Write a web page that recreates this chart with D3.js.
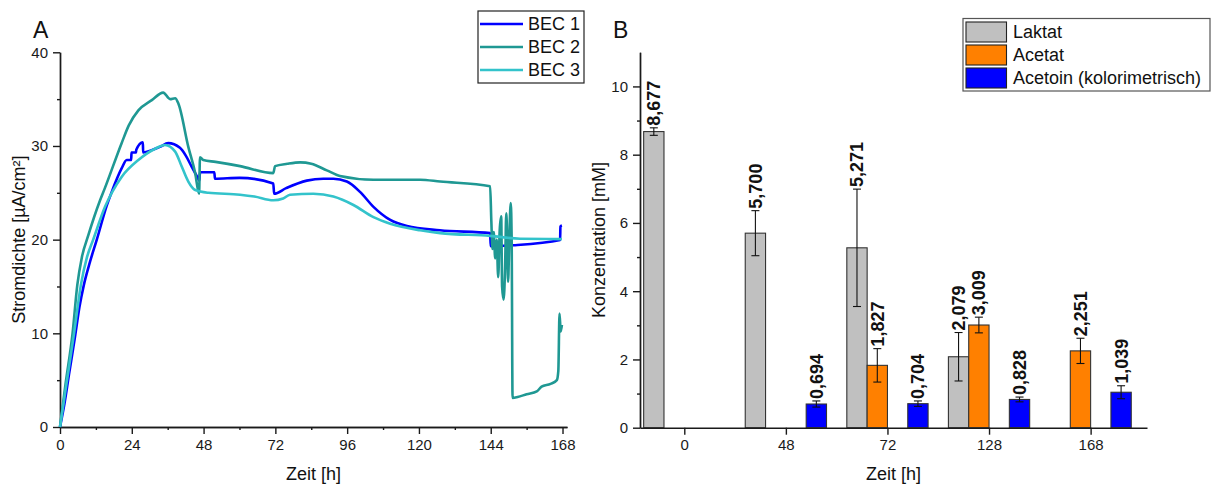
<!DOCTYPE html>
<html>
<head>
<meta charset="utf-8">
<script src="https://cdn.jsdelivr.net/npm/d3@7"></script>
<style>
  body { margin: 0; background: #fff; }
  svg { font-family: "Liberation Sans", Arial, sans-serif; }
  .axis path, .axis line { stroke: #1a1a1a; stroke-width: 1.4px; }
  .axis text { font-size: 15px; fill: #1a1a1a; }
</style>
</head>
<body>
<div id="chart"></div>
<script>
// ---- panel A: current density, [time h, value µA/cm²]
var bec1 = [[0,0],[1.5,2.5],[3,5.6],[5,9.6],[6.5,12.8],[8,15.2],[10,17.6],[12.3,20],[15.6,23.6],[17.3,25.1],
  [20.6,27.6],[22.3,28.5],[23.8,28.5],[23.9,29.3],[25.4,29.3],[25.5,29.6],[27.7,30.4],[27.8,29.3],[31,29.6],
  [33.4,29.9],[36.2,30.3],[40.1,29.8],[42,29],[44,27.8],[45.7,26.8],[46.6,26.3],[46.8,27.2],[51.6,27.2],
  [51.8,26.5],[60,26.6],[71.3,26.0],[71.6,24.9],[75.6,25.5],[82.5,26.3],[88,26.5],[91.4,26.5],[95.9,26.2],
  [100.3,25.1],[104.8,23.5],[110.4,22.1],[116,21.45],[127,21.0],[143.8,20.7],[144,19.3],[151.6,19.4],
  [167.2,19.96],[167.3,21.4],[167.8,21.5]];

var bec2 = [[0,0],[1.9,4.7],[4.2,10],[5.8,15.2],[7.3,18.1],[9.5,20.5],[13.4,24.2],[15,25.5],[20.6,30.3],
  [23,32.2],[26.2,33.8],[30.7,34.9],[34.5,35.7],[36.8,35.0],[38.5,35.1],[39.6,34.5],[42.9,29.9],[45.2,27.1],
  [46.5,24.9],[46.8,28.8],[47.9,28.5],[52,28.3],[60.2,27.85],[71.3,27.1],[71.9,27.85],[76,28.1],[80.3,28.25],
  [84,28.1],[89.2,27.4],[93.6,26.8],[104.8,26.4],[120.4,26.4],[127.1,26.2],[143.8,25.7],[144.2,22],[144.6,19],
  [145,20.8],[145.5,18],[146,20],[146.5,16],[147,21],[147.5,22.5],[147.8,15],[148.3,13.6],[148.8,17],
  [149.2,22.8],[149.5,20],[149.8,15.5],[150.2,20],[150.7,23.9],[151,20],[151.3,3.1],[153,3.2],[156,3.5],
  [159.4,3.8],[161,4.3],[164,4.6],[166.1,5.0],[166.6,6],[167,12.1],[167.4,10.2],[167.8,10.9]];

var bec3 = [[0,0],[2.2,4.7],[4.7,10],[7,15.2],[9,18.1],[11.1,20],[15.05,23.5],[20.6,26.7],[26.2,28.5],
  [31.8,29.7],[35.1,30.1],[38.5,29.4],[40.7,27.8],[42.9,26.2],[45.2,25.3],[49.6,25.0],[60.2,24.8],[65,24.6],
  [71.3,24.2],[74.6,24.4],[76.9,24.8],[84.7,24.9],[91.4,24.6],[98.1,23.7],[104.8,22.4],[110.4,21.7],
  [120.4,21.0],[127.1,20.7],[143.8,20.4],[153.8,20.1],[167.8,20.06]];

var lineNames = ["BEC 1", "BEC 2", "BEC 3"];
var xTicksA = [0, 24, 48, 72, 96, 120, 144, 168];
var yTicksA = [0, 10, 20, 30, 40];

// ---- panel B: concentrations [mM]
var categories = ["0", "48", "72", "128", "168"];
var laktat = [8.677, 5.700, 5.271, 2.079, null];
var laktatErr = [0.11, 0.66, 1.72, 0.71, null];
var acetat = [null, null, 1.827, 3.009, 2.251];
var acetatErr = [null, null, 0.49, 0.23, 0.37];
var acetoin = [null, 0.694, 0.704, 0.828, 1.039];
var acetoinErr = [null, 0.09, 0.08, 0.07, 0.19];
var barNames = ["Laktat", "Acetat", "Acetoin (kolorimetrisch)"];
var yTicksB = [0, 2, 4, 6, 8, 10];

var W = 1211, H = 485;
var svg = d3.select("#chart").append("svg").attr("width", W).attr("height", H);

var lineColors = ["#0000ff", "#1f9893", "#33c3cb"];
var barColors = ["#c0c0c0", "#ff8000", "#0000ff"];

// ================= panel A
var xA = d3.scaleLinear().domain([0, 169.5]).range([60, 567]);
var yA = d3.scaleLinear().domain([0, 40]).range([427, 52.3]);

svg.append("g").attr("class", "axis")
  .attr("transform", "translate(0," + yA(0) + ")")
  .call(d3.axisBottom(xA).tickValues(d3.range(12, 168, 24)).tickSize(3).tickSizeOuter(0).tickFormat(""));
svg.append("g").attr("class", "axis")
  .attr("transform", "translate(0," + yA(0) + ")")
  .call(d3.axisBottom(xA).tickValues(xTicksA).tickSize(7).tickPadding(5).tickSizeOuter(0));
svg.append("g").attr("class", "axis")
  .attr("transform", "translate(" + xA(0) + ",0)")
  .call(d3.axisLeft(yA).tickValues([5, 15, 25, 35]).tickSize(3).tickSizeOuter(0).tickFormat(""));
svg.append("g").attr("class", "axis")
  .attr("transform", "translate(" + xA(0) + ",0)")
  .call(d3.axisLeft(yA).tickValues(yTicksA).tickSize(7).tickPadding(5).tickSizeOuter(0));

var line = d3.line().curve(d3.curveMonotoneX).x(d => xA(d[0])).y(d => yA(d[1]));
[bec1, bec2, bec3].forEach(function(s, i) {
  svg.append("path").datum(s)
    .attr("d", line)
    .attr("fill", "none")
    .attr("stroke", lineColors[i])
    .attr("stroke-width", 2.6)
    .attr("stroke-linejoin", "round");
});

svg.append("text").attr("x", 33).attr("y", 38).attr("font-size", 23).attr("fill", "#111").text("A");
svg.append("text").attr("x", xA(84.75)).attr("y", 480).attr("text-anchor", "middle")
  .attr("font-size", 18).attr("fill", "#111").text("Zeit [h]");
svg.append("text").attr("transform", "translate(25," + yA(20) + ") rotate(-90)")
  .attr("text-anchor", "middle").attr("font-size", 18).attr("fill", "#111").text("Stromdichte [µA/cm²]");

// legend A
var legA = svg.append("g").attr("transform", "translate(478,11)");
legA.append("rect").attr("width", 106).attr("height", 72).attr("fill", "#fff")
  .attr("stroke", "#222").attr("stroke-width", 1.2);
lineNames.forEach(function(n, i) {
  var y = 13 + i * 23;
  legA.append("line").attr("x1", 2).attr("x2", 45).attr("y1", y).attr("y2", y)
    .attr("stroke", lineColors[i]).attr("stroke-width", 2.6);
  legA.append("text").attr("x", 50).attr("y", y).attr("dy", "0.35em")
    .attr("font-size", 18).attr("fill", "#111").text(n);
});

// ================= panel B
var xB = d3.scaleLinear().domain([-0.436, 4.555]).range([640, 1147]);
var yB = d3.scaleLinear().domain([0, 11]).range([427.7, 52.3]);
var slot = 0.2;
var series = [
  { vals: laktat, err: laktatErr, off: -0.4 },
  { vals: acetat, err: acetatErr, off: -0.2 },
  { vals: acetoin, err: acetoinErr, off: 0.2 }
];
var fmt = d3.format(".3f");

series.forEach(function(s, si) {
  var g = svg.append("g");
  s.vals.forEach(function(v, i) {
    if (v == null) return;
    var x0 = xB(i + s.off), x1 = xB(i + s.off + slot), cx = (x0 + x1) / 2;
    g.append("rect").attr("x", x0).attr("y", yB(v))
      .attr("width", x1 - x0).attr("height", yB(0) - yB(v))
      .attr("fill", barColors[si]).attr("stroke", "#333").attr("stroke-width", 1.1);
    var e = s.err[i];
    var top = yB(v + e), bot = yB(v - e);
    g.append("line").attr("x1", cx).attr("x2", cx).attr("y1", top).attr("y2", bot)
      .attr("stroke", "#111").attr("stroke-width", 1.1);
    [top, bot].forEach(function(yy) {
      g.append("line").attr("x1", cx - 4).attr("x2", cx + 4).attr("y1", yy).attr("y2", yy)
        .attr("stroke", "#111").attr("stroke-width", 1.1);
    });
    g.append("text").attr("transform", "translate(" + cx + "," + (top - 2) + ") rotate(-90)")
      .attr("dy", "0.36em").attr("font-size", 18).attr("font-weight", "bold").attr("fill", "#111")
      .text(fmt(v).replace(".", ","));
  });
});

svg.append("g").attr("class", "axis")
  .attr("transform", "translate(0," + yB(0) + ")")
  .call(d3.axisBottom(xB).tickValues(d3.range(categories.length)).tickSize(7).tickPadding(5)
    .tickSizeOuter(0).tickFormat(i => categories[i]));
svg.append("g").attr("class", "axis")
  .attr("transform", "translate(" + xB.range()[0] + ",0)")
  .call(d3.axisLeft(yB).tickValues([1, 3, 5, 7, 9]).tickSize(3).tickSizeOuter(0).tickFormat(""));
svg.append("g").attr("class", "axis")
  .attr("transform", "translate(" + xB.range()[0] + ",0)")
  .call(d3.axisLeft(yB).tickValues(yTicksB).tickSize(7).tickPadding(5).tickSizeOuter(0));

svg.append("text").attr("x", 613).attr("y", 38).attr("font-size", 23).attr("fill", "#111").text("B");
svg.append("text").attr("x", 893.5).attr("y", 480).attr("text-anchor", "middle")
  .attr("font-size", 18).attr("fill", "#111").text("Zeit [h]");
svg.append("text").attr("transform", "translate(605," + yB(5.5) + ") rotate(-90)")
  .attr("text-anchor", "middle").attr("font-size", 18).attr("fill", "#111").text("Konzentration [mM]");

// legend B
var legB = svg.append("g").attr("transform", "translate(963,18.5)");
legB.append("rect").attr("width", 247).attr("height", 72.5).attr("fill", "#fff")
  .attr("stroke", "#555").attr("stroke-width", 1.2);
barNames.forEach(function(n, i) {
  var y = 13.5 + i * 23;
  legB.append("rect").attr("x", 3).attr("y", y - 10).attr("width", 40.5).attr("height", 20)
    .attr("fill", barColors[i]).attr("stroke", "#222").attr("stroke-width", 1.1);
  legB.append("text").attr("x", 50).attr("y", y).attr("dy", "0.35em")
    .attr("font-size", 18).attr("fill", "#111").text(n);
});
</script>
</body>
</html>
